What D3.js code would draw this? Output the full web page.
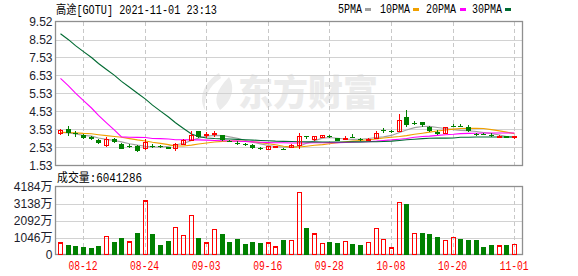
<!DOCTYPE html>
<html>
<head>
<meta charset="utf-8">
<script src="https://cdn.jsdelivr.net/npm/d3@7"></script>
<style>
body { margin: 0; background: #fff; }
svg text { font-family: "Liberation Sans", Arial, sans-serif; }
.mono { font-family: "Liberation Mono", "Noto Sans CJK SC", monospace !important; }
</style>
</head>
<body>
<svg id="chart"></svg>
<script>
// Data
const dates = ['08-09','08-10','08-11','08-12','08-13','08-16','08-17','08-18','08-19','08-20',
    '08-23','08-24','08-25','08-26','08-27','08-30','08-31','09-01','09-02','09-03',
    '09-07','09-08','09-09','09-10','09-13','09-14','09-15','09-16','09-17','09-20',
    '09-21','09-22','09-23','09-24','09-27','09-28','09-29','09-30','10-01','10-04',
    '10-05','10-06','10-07','10-08','10-11','10-12','10-13','10-14','10-15','10-18',
    '10-19','10-20','10-21','10-22','10-25','10-26','10-27','10-28','10-29','11-01'];

const open = [3.28,3.53,3.36,3.20,3.13,2.94,2.63,3.02,2.74,2.60,
    2.61,2.46,2.62,2.60,2.53,2.48,2.72,2.94,3.42,3.19,
    3.26,3.22,2.87,2.80,2.70,2.65,2.50,2.43,2.56,2.46,
    2.52,2.63,3.18,2.98,3.10,3.14,3.03,3.00,3.13,3.00,
    2.97,3.05,3.50,3.42,3.42,4.23,3.88,3.92,3.68,3.39,
    3.31,3.72,3.73,3.68,3.29,3.26,3.21,3.10,3.16,3.06];
const high = [3.57,3.72,3.46,3.28,3.18,2.98,3.13,3.06,2.78,2.70,
    2.66,2.98,2.72,2.66,2.58,2.78,3.00,3.46,3.46,3.37,
    3.46,3.25,2.95,2.90,2.76,2.70,2.56,2.60,2.58,2.52,
    2.70,3.35,3.19,3.18,3.24,3.24,3.08,3.14,3.27,3.04,
    3.08,3.46,3.60,3.51,4.36,4.62,3.98,3.95,3.72,3.49,
    3.68,3.82,3.85,3.76,3.36,3.31,3.31,3.20,3.19,3.17];
const low = [3.20,3.16,3.13,3.02,2.96,2.74,2.56,2.76,2.44,2.50,
    2.29,2.40,2.50,2.48,2.44,2.36,2.69,2.91,3.05,3.03,
    3.13,2.91,2.82,2.68,2.62,2.46,2.40,2.40,2.54,2.38,
    2.48,2.45,2.98,2.90,3.04,3.03,2.87,2.92,3.03,2.88,
    2.88,3.01,3.36,3.34,3.38,3.66,3.76,3.68,3.38,3.25,
    3.28,3.64,3.68,3.40,3.16,3.20,3.09,3.03,3.03,3.02];
const close = [3.46,3.32,3.33,3.05,2.99,2.77,2.98,2.81,2.47,2.56,
    2.36,2.79,2.58,2.58,2.45,2.69,2.91,3.20,3.09,3.25,
    3.31,2.94,2.85,2.76,2.68,2.50,2.47,2.56,2.57,2.44,
    2.64,3.13,3.16,3.13,3.20,3.12,2.91,3.04,3.07,2.94,
    2.99,3.31,3.42,3.41,4.00,3.80,3.87,3.75,3.42,3.28,
    3.66,3.71,3.71,3.42,3.28,3.25,3.20,3.12,3.07,3.14];

// volume in 万
const volume = [704,603,543,462,422,543,1126,784,1025,764,
    1327,3296,1266,603,844,1668,1186,2392,1025,704,
    1548,1266,784,965,663,784,724,704,462,905,
    844,3839,1628,1266,663,784,724,784,663,603,
    724,1608,945,402,3176,3136,1307,1327,1266,1085,
    884,1065,965,905,905,482,603,523,603,604];
const volColor = ['r','g','g','g','g','g','r','g','g','r',
    'g','r','g','g','g','r','r','r','g','r',
    'r','g','g','g','g','g','g','r','r','g',
    'r','r','g','r','r','g','g','r','g','g',
    'r','r','r','r','r','g','r','g','g','g',
    'r','r','g','g','g','g','g','r','g','r'];

const ma5 = [3.36,3.33,3.28,3.20,3.16,3.06,2.98,2.92,2.84,2.74,
    2.66,2.60,2.56,2.55,2.60,2.68,2.75,2.92,3.05,3.15,
    3.20,3.19,3.12,3.04,2.92,2.82,2.73,2.64,2.58,2.55,
    2.54,2.60,2.76,2.90,3.05,3.08,3.04,3.00,2.98,2.99,
    3.03,3.08,3.12,3.20,3.36,3.50,3.63,3.69,3.70,3.64,
    3.58,3.52,3.48,3.46,3.42,3.36,3.30,3.22,3.14,3.10];
const ma10 = [3.37,3.36,3.34,3.31,3.29,3.24,3.19,3.14,3.10,3.02,
    2.95,2.89,2.82,2.76,2.69,2.61,2.61,2.66,2.72,2.78,
    2.83,2.87,2.88,2.88,2.87,2.85,2.80,2.74,2.68,2.60,
    2.55,2.56,2.60,2.65,2.69,2.74,2.79,2.84,2.88,2.92,
    2.96,3.00,3.06,3.10,3.14,3.19,3.26,3.32,3.38,3.44,
    3.50,3.55,3.58,3.59,3.60,3.58,3.52,3.45,3.38,3.30];
const ma20 = [6.36,5.95,5.54,5.13,4.72,4.31,3.90,3.49,3.12,3.10,
    3.09,3.08,3.03,3.02,3.00,2.96,2.96,2.95,2.95,2.94,
    2.92,2.90,2.89,2.88,2.86,2.84,2.82,2.80,2.79,2.79,
    2.78,2.78,2.78,2.79,2.79,2.80,2.80,2.81,2.82,2.83,
    2.85,2.88,2.92,2.95,2.99,3.03,3.10,3.14,3.16,3.20,
    3.24,3.26,3.30,3.31,3.32,3.33,3.33,3.33,3.33,3.33];
const ma30 = [8.84,8.51,8.18,7.85,7.52,7.19,6.86,6.53,6.20,5.87,
    5.54,5.21,4.88,4.55,4.22,3.90,3.58,3.28,3.14,3.06,
    3.03,3.01,3.00,2.98,2.96,2.94,2.92,2.90,2.88,2.87,
    2.86,2.85,2.84,2.84,2.83,2.83,2.83,2.83,2.84,2.84,
    2.85,2.85,2.86,2.88,2.92,2.96,2.99,3.02,3.04,3.05,
    3.05,3.06,3.10,3.10,3.11,3.11,3.11,3.11,3.11,3.11];

const tickDates = ['08-12','08-24','09-03','09-16','09-28','10-08','10-20','11-01'];
const priceTicks = [1.53,2.53,3.53,4.53,5.53,6.53,7.53,8.52,9.52];
const volTicks = [0,1046,2092,3138,4184];
const maNames = ['5PMA','10PMA','20PMA','30PMA'];
const maColors = ['#a0a0a0','#f0a000','#ff00ff','#006a32'];
const title = '高途[GOTU] 2021-11-01 23:13';
const volTitle = '成交量:6041286';

//Canvas
let width = 578;
let height = 276;
let plot = {left: 55.5, right: 522.5, top: 21.5, bottom: 165.5, vTop: 186.5, vBottom: 254.5};
const red = '#ff0000';
const green = '#008000';

let svg = d3.select('#chart').attr('width', width).attr('height', height);

let xScale = d3.scaleBand().domain(dates).range([56, 518]);
let cx = d => Math.round(xScale(d) + xScale.bandwidth() / 2);
let yScale = d3.scaleLinear().domain([1.53, 9.52]).range([plot.bottom, plot.top]);
let vScale = d3.scaleLinear().domain([0, 4184]).range([plot.vBottom, plot.vTop]);

let rows = dates.map((d, i) => ({date: d, o: open[i], h: high[i], l: low[i], c: close[i], v: volume[i], vc: volColor[i]}));

// watermark
let wm = svg.append('g').attr('fill', '#ebebeb');
wm.append('path').attr('d', 'M219 73 C204 82 198 98 205 110 C204 97 209 86 221 78 Z M229 77 C216 90 213 101 220 110 C231 102 236 89 229 77 Z');
wm.append('text')
    .attr('x', 238).attr('y', 106)
    .attr('font-size', 36).attr('font-weight', 900)
    .attr('textLength', 140).attr('lengthAdjust', 'spacingAndGlyphs')
    .style('font-family', '"Noto Sans CJK SC", sans-serif')
    .text('东方财富');

// grids
let grid = svg.append('g').attr('shape-rendering', 'crispEdges');
grid.selectAll('.hp').data(priceTicks.slice(1, -1)).enter().append('line')
    .attr('x1', plot.left).attr('x2', plot.right)
    .attr('y1', d => Math.round(yScale(d)) + 0.5).attr('y2', d => Math.round(yScale(d)) + 0.5)
    .attr('stroke', '#d2d2d2');
grid.selectAll('.hv').data(volTicks.slice(1, -1)).enter().append('line')
    .attr('x1', plot.left).attr('x2', plot.right)
    .attr('y1', d => Math.round(vScale(d)) + 0.5).attr('y2', d => Math.round(vScale(d)) + 0.5)
    .attr('stroke', '#d2d2d2');
[[plot.top, plot.bottom], [plot.vTop, plot.vBottom]].forEach(r => {
    grid.selectAll(null).data(tickDates).enter().append('line')
        .attr('x1', d => cx(d) + 0.5).attr('x2', d => cx(d) + 0.5)
        .attr('y1', r[0]).attr('y2', r[1])
        .attr('stroke', '#c8c8c8').attr('stroke-dasharray', '4,3');
});

// frames
svg.append('rect').attr('x', plot.left).attr('y', plot.top)
    .attr('width', plot.right - plot.left).attr('height', plot.bottom - plot.top)
    .attr('fill', 'none').attr('stroke', '#8f8f8f').attr('stroke-width', 1.3);
svg.append('rect').attr('x', plot.left).attr('y', plot.vTop)
    .attr('width', plot.right - plot.left).attr('height', plot.vBottom - plot.vTop)
    .attr('fill', 'none').attr('stroke', '#8f8f8f').attr('stroke-width', 1.3);

// moving averages
let line = d3.line().x((d, i) => cx(dates[i]) + 0.5).y(d => yScale(d));
[ma5, ma10, ma20, ma30].forEach((arr, k) => {
    svg.append('path').datum(arr)
        .attr('d', line)
        .attr('fill', 'none')
        .attr('stroke', maColors[k])
        .attr('stroke-width', 1.1);
});

// candles
let candles = svg.append('g').attr('shape-rendering', 'crispEdges');
let cg = candles.selectAll('g').data(rows).enter().append('g');
cg.append('line')
    .attr('x1', d => cx(d.date) + 0.5).attr('x2', d => cx(d.date) + 0.5)
    .attr('y1', d => yScale(d.h)).attr('y2', d => yScale(d.l))
    .attr('stroke', d => d.c >= d.o ? red : green);
cg.append('rect')
    .attr('x', d => d.c >= d.o ? cx(d.date) - 1.5 : cx(d.date) - 2)
    .attr('width', d => d.c >= d.o ? 4 : 5)
    .attr('y', d => yScale(Math.max(d.o, d.c)))
    .attr('height', d => Math.max(1, Math.abs(yScale(d.o) - yScale(d.c))))
    .attr('fill', d => d.c >= d.o ? 'none' : green)
    .attr('stroke', d => d.c >= d.o ? red : 'none');

// volume bars
svg.append('g').attr('shape-rendering', 'crispEdges')
    .selectAll('rect').data(rows).enter().append('rect')
    .attr('x', d => d.vc === 'r' ? cx(d.date) - 1.5 : cx(d.date) - 2)
    .attr('width', d => d.vc === 'r' ? 4 : 5)
    .attr('y', d => vScale(d.v))
    .attr('height', d => vScale(0) - vScale(d.v))
    .attr('fill', d => d.vc === 'r' ? 'none' : green)
    .attr('stroke', d => d.vc === 'r' ? red : 'none')
    .attr('stroke-width', 1.2);

// axes
let yAxis = d3.axisLeft(yScale).tickValues(priceTicks).tickSize(0).tickPadding(3)
    .tickFormat((d, i) => priceTicks[i].toFixed(2));
svg.append('g').attr('transform', 'translate(' + plot.left + ',0)').call(yAxis)
    .call(g => g.select('.domain').remove())
    .selectAll('text').attr('font-size', 12).attr('fill', '#1c1c2c')
    .style('font-family', '"Liberation Sans", Arial, sans-serif');

let vAxis = d3.axisLeft(vScale).tickValues(volTicks).tickSize(0).tickPadding(3)
    .tickFormat(d => d === 0 ? '0' : d + '万');
svg.append('g').attr('transform', 'translate(' + plot.left + ',0)').call(vAxis)
    .call(g => g.select('.domain').remove())
    .selectAll('text').attr('font-size', 12).attr('fill', '#1c1c2c')
    .style('font-family', '"Liberation Sans", "Noto Sans CJK SC", Arial, sans-serif');

let xAxis = d3.axisBottom(xScale).tickValues(tickDates).tickSize(0).tickPadding(7);
svg.append('g').attr('transform', 'translate(0,' + plot.vBottom + ')').call(xAxis)
    .call(g => g.select('.domain').remove())
    .selectAll('text').attr('font-size', 12).attr('fill', red)
    .attr('textLength', 29).attr('lengthAdjust', 'spacingAndGlyphs')
    .attr('class', 'mono');

// title and legend
svg.append('text').attr('class', 'mono')
    .attr('x', 56).attr('y', 14).attr('font-size', 12)
    .attr('textLength', 161).attr('lengthAdjust', 'spacingAndGlyphs')
    .text(title);
svg.append('text').attr('class', 'mono')
    .attr('x', 57).attr('y', 182).attr('font-size', 12)
    .attr('textLength', 85).attr('lengthAdjust', 'spacingAndGlyphs')
    .text(volTitle);

let legX = [338, 380, 426, 472];
let legSq = [365, 413, 460, 505];
maNames.forEach((n, k) => {
    svg.append('text').attr('class', 'mono')
        .attr('x', legX[k]).attr('y', 13).attr('font-size', 12)
        .attr('textLength', n.length * 6).attr('lengthAdjust', 'spacingAndGlyphs')
        .text(n);
    svg.append('rect').attr('x', legSq[k]).attr('y', 8).attr('width', 6).attr('height', 3)
        .attr('fill', maColors[k]);
});
</script>
</body>
</html>
